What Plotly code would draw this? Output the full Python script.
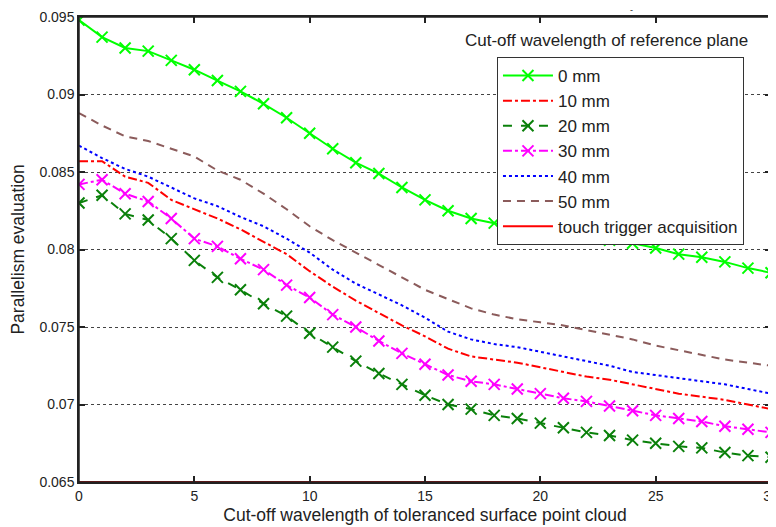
import plotly.graph_objects as go

x = list(range(31))

y_0mm = [0.0948, 0.0937, 0.0930, 0.0928, 0.0922, 0.0916, 0.0909, 0.0902, 0.0894, 0.0885,
         0.0875, 0.0865, 0.0856, 0.0849, 0.0840, 0.0832, 0.0825, 0.0820, 0.0817, 0.0815,
         0.0813, 0.0810, 0.0807, 0.0806, 0.0804, 0.0801, 0.0797, 0.0795, 0.0792, 0.0788, 0.0785]
y_10mm = [0.0857, 0.0857, 0.0847, 0.0843, 0.0832, 0.0826, 0.0820, 0.0813, 0.0805, 0.0797,
          0.0786, 0.0776, 0.0767, 0.0759, 0.0751, 0.0744, 0.0736, 0.0731, 0.0729, 0.0727,
          0.0724, 0.0721, 0.0718, 0.0716, 0.0713, 0.0710, 0.0707, 0.0705, 0.0703, 0.0700, 0.0697]
y_20mm = [0.0830, 0.0835, 0.0823, 0.0819, 0.0807, 0.0793, 0.0782, 0.0774, 0.0765, 0.0757,
          0.0746, 0.0737, 0.0728, 0.0720, 0.0713, 0.0706, 0.0700, 0.0697, 0.0693, 0.0691,
          0.0688, 0.0685, 0.0682, 0.0680, 0.0677, 0.0675, 0.0673, 0.0672, 0.0669, 0.0667, 0.0666]
y_30mm = [0.0842, 0.0845, 0.0836, 0.0831, 0.0820, 0.0807, 0.0802, 0.0794, 0.0787, 0.0777,
          0.0769, 0.0758, 0.0750, 0.0741, 0.0733, 0.0726, 0.0719, 0.0715, 0.0713, 0.0710,
          0.0707, 0.0704, 0.0702, 0.0699, 0.0696, 0.0693, 0.0691, 0.0689, 0.0686, 0.0684, 0.0682]
y_40mm = [0.0867, 0.0859, 0.0852, 0.0847, 0.0840, 0.0833, 0.0828, 0.0821, 0.0815, 0.0807,
          0.0798, 0.0787, 0.0778, 0.0771, 0.0764, 0.0756, 0.0747, 0.0742, 0.0739, 0.0737,
          0.0734, 0.0731, 0.0728, 0.0725, 0.0721, 0.0719, 0.0717, 0.0715, 0.0713, 0.0710, 0.0707]
y_50mm = [0.0888, 0.0880, 0.0873, 0.0870, 0.0865, 0.0860, 0.0851, 0.0845, 0.0836, 0.0826,
          0.0815, 0.0806, 0.0798, 0.0790, 0.0782, 0.0774, 0.0768, 0.0762, 0.0758, 0.0755,
          0.0753, 0.0751, 0.0748, 0.0745, 0.0742, 0.0738, 0.0735, 0.0732, 0.0729, 0.0727, 0.0725]
y_touch = [0.065] * 31

x_ticks = [0, 5, 10, 15, 20, 25, 30]
y_ticks = [0.065, 0.07, 0.075, 0.08, 0.085, 0.09, 0.095]
y_tick_text = ["0.065", "0.07", "0.075", "0.08", "0.085", "0.09", "0.095"]

FONT = "Liberation Sans, Arial, sans-serif"
TXT = "#222222"
AX = "#222222"

series = [
    ("0 mm", y_0mm, "#00FF00", "solid", True),
    ("10 mm", y_10mm, "#FF0000", "dashdot", False),
    ("20 mm", y_20mm, "#0A800A", "dash", True),
    ("30 mm", y_30mm, "#FF00FF", "dashdot", True),
    ("40 mm", y_40mm, "#0000FF", "dot", False),
    ("50 mm", y_50mm, "#8B5B5B", "8px,6px", False),
    ("touch trigger acquisition", y_touch, "#FF0000", "solid", False),
]

fig = go.Figure()
for i, (name, ys, color, dash, mk) in enumerate(series):
    fig.add_trace(go.Scatter(
        x=x, y=ys, name=name,
        mode="lines+markers" if mk else "lines",
        line=dict(color=color, width=2, dash=dash),
        marker=dict(symbol="x-thin", size=11, line=dict(color=color, width=2)) if mk else None,
        cliponaxis=False if name.startswith("touch") else True,
    ))

# frame drawn as a shape above the traces
shapes = [dict(type="rect", xref="paper", yref="paper", x0=0, y0=0, x1=1, y1=1,
               line=dict(color=AX, width=1.5), fillcolor="rgba(0,0,0,0)", layer="above")]

# page has an 8px default body margin; figure is sized to compensate
fig.update_layout(
    width=768, height=519,
    margin=dict(l=71, r=5, t=9, b=45),
    paper_bgcolor="white", plot_bgcolor="white",
    font=dict(family=FONT, size=17, color=TXT),
    legend=dict(x=0.604, y=0.914, xanchor="left", yanchor="top",
                bgcolor="white", bordercolor="#333333", borderwidth=1,
                font=dict(family=FONT, size=17, color=TXT),
                traceorder="normal", itemwidth=50),
    shapes=shapes,
    annotations=[
        dict(text="Cut-off wavelength of reference plane", xref="paper", yref="paper",
             x=0.762, y=0.9505, xanchor="center", yanchor="middle", showarrow=False,
             font=dict(family=FONT, size=17, color=TXT)),
        dict(text="-", xref="paper", yref="paper", x=0.799, y=1.0,
             xanchor="center", yanchor="bottom", showarrow=False,
             font=dict(family=FONT, size=9, color=TXT)),
    ],
)

fig.update_xaxes(
    range=[0, 30], tickvals=x_ticks, showgrid=False, automargin=False,
    showline=True, mirror="allticks", linecolor=AX, linewidth=1.5,
    ticks="inside", ticklen=6, tickcolor=AX, tickwidth=1.5,
    ticklabeloverflow="allow",
    tickfont=dict(family=FONT, size=14, color=TXT), zeroline=False,
    title=dict(text="Cut-off wavelength of toleranced surface point cloud",
               font=dict(family=FONT, size=17.5, color=TXT), standoff=6),
)
fig.update_yaxes(
    range=[0.065, 0.095], tickvals=y_ticks, ticktext=y_tick_text, automargin=False,
    showgrid=True, gridcolor="#444444", griddash="dot", gridwidth=1,
    showline=True, mirror="allticks", linecolor=AX, linewidth=1.5,
    ticks="inside", ticklen=6, tickcolor=AX, tickwidth=1.5,
    ticklabeloverflow="allow",
    tickfont=dict(family=FONT, size=14, color=TXT), zeroline=False,
    title=dict(text="Parallelism evaluation",
               font=dict(family=FONT, size=17.5, color=TXT), standoff=10),
)

fig.write_html("out.html")
